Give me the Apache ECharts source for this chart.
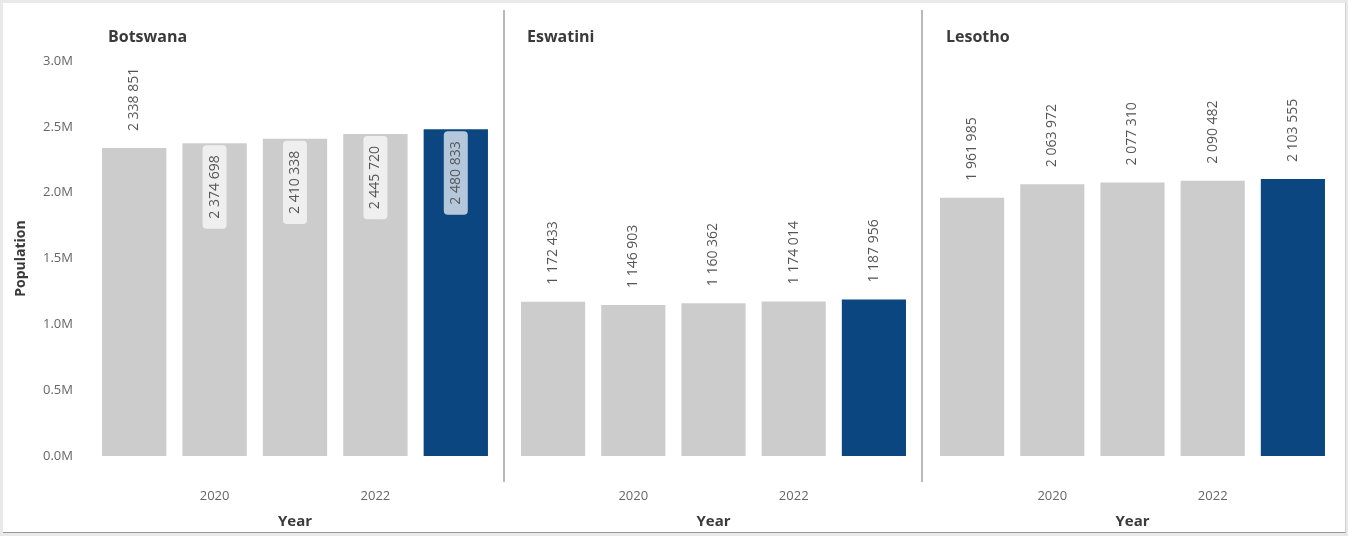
<!DOCTYPE html>
<html>
<head>
<meta charset="utf-8">
<script src="https://cdn.jsdelivr.net/npm/echarts@6/dist/echarts.min.js"></script>
<style>
  html, body { margin: 0; padding: 0; background: #e9e9e9; overflow: hidden; }
  #frame { position: absolute; left: 3px; top: 3px; width: 1342px; height: 529px; background: #ffffff; border-bottom: 1px solid #9a9a9a; border-right: 1px solid #d0d0d0; }
  #main { position: absolute; left: 0; top: 0; width: 1348px; height: 536px; }
</style>
</head>
<body>
<div id="frame"></div>
<div id="main"></div>
<script>
// Population by year, three countries
const years = ['2019', '2020', '2021', '2022', '2023'];
const countries = ['Botswana', 'Eswatini', 'Lesotho'];
const botswana = [2338851, 2374698, 2410338, 2445720, 2480833];
const eswatini = [1172433, 1146903, 1160362, 1174014, 1187956];
const lesotho = [1961985, 2063972, 2077310, 2090482, 2103555];
const yTicks = [0, 500000, 1000000, 1500000, 2000000, 2500000, 3000000];
const shownYears = ['2020', '2022'];

const seriesValues = [botswana, eswatini, lesotho];
const yMax = yTicks[yTicks.length - 1];
const yStep = yTicks[1] - yTicks[0];
// labels above this value no longer fit over the bar and go inside it
const insideLimit = 2350000;

const grey = '#cccccc';
const navy = '#0b4680';
const fontFamily = '"Open Sans", "Noto Sans", sans-serif';

const panels = [
  { left: 94, width: 402 },
  { left: 513, width: 401 },
  { left: 932, width: 401 }
];

function fmt(v) {
  return String(v).replace(/\B(?=(\d{3})+(?!\d))/g, ' ');
}

const grids = [], xAxes = [], yAxes = [], series = [], titles = [];

panels.forEach((p, i) => {
  grids.push({ left: p.left, width: p.width, top: 61, height: 395, containLabel: false });
  titles.push({
    text: countries[i],
    left: p.left + 14,
    top: 29,
    padding: 0,
    textStyle: { fontFamily, fontSize: 16, fontWeight: 'bold', color: '#3a3a3a' }
  });
  xAxes.push({
    type: 'category',
    gridIndex: i,
    data: years,
    axisLine: { show: false },
    axisTick: { show: false },
    axisLabel: {
      margin: 34,
      color: '#666666',
      fontFamily,
      fontSize: 13,
      interval: (idx, val) => shownYears.includes(val)
    },
    name: 'Year',
    nameLocation: 'middle',
    nameGap: 58,
    nameTextStyle: { fontFamily, fontSize: 15, fontWeight: 'bold', color: '#3a3a3a' }
  });
  yAxes.push({
    type: 'value',
    gridIndex: i,
    min: 0,
    max: yMax,
    interval: yStep,
    splitLine: { show: false },
    axisLine: { show: false },
    axisTick: { show: false },
    axisLabel: {
      show: i === 0,
      margin: 21,
      color: '#666666',
      fontFamily,
      fontSize: 13,
      formatter: v => (v / 1e6).toFixed(1) + 'M'
    },
    name: i === 0 ? 'Population' : '',
    nameLocation: 'middle',
    nameGap: 66,
    nameTextStyle: { fontFamily, fontSize: 14, fontWeight: 'bold', color: '#3a3a3a' }
  });

  const vals = seriesValues[i];
  const data = vals.map((v, k) => {
    const last = k === vals.length - 1;
    const inside = v > insideLimit;
    const item = {
      value: v,
      itemStyle: { color: last ? navy : grey }
    };
    if (inside) {
      item.label = {
        position: 'insideTop',
        distance: 2,
        align: 'right',
        verticalAlign: 'middle',
        backgroundColor: last ? '#b5c7da' : '#efefef',
        borderRadius: 4,
        padding: [5, 10, 5, 10]
      };
    }
    return item;
  });

  series.push({
    type: 'bar',
    xAxisIndex: i,
    yAxisIndex: i,
    data,
    barCategoryGap: '20%',
    label: {
      show: true,
      position: 'top',
      rotate: 90,
      distance: 17,
      align: 'left',
      verticalAlign: 'middle',
      color: '#555555',
      fontFamily,
      fontSize: 14,
      formatter: p => fmt(p.value)
    }
  });
});

const chart = echarts.init(document.getElementById('main'), null, { renderer: 'canvas' });
chart.setOption({
  backgroundColor: 'transparent',
  animation: false,
  title: titles,
  grid: grids,
  xAxis: xAxes,
  yAxis: yAxes,
  series,
  graphic: [
    { type: 'line', shape: { x1: 504, y1: 10, x2: 504, y2: 482 }, style: { stroke: '#8a8a8a', lineWidth: 1.2 } },
    { type: 'line', shape: { x1: 922, y1: 10, x2: 922, y2: 482 }, style: { stroke: '#8a8a8a', lineWidth: 1.2 } }
  ]
});
</script>
</body>
</html>
